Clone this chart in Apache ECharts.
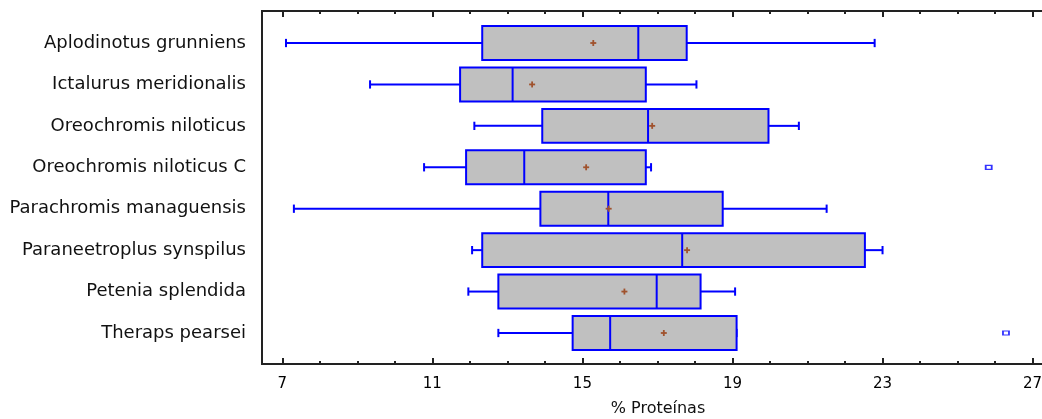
<!DOCTYPE html>
<html><head><meta charset="utf-8">
<script src="https://cdn.jsdelivr.net/npm/echarts@6/dist/echarts.min.js"></script>
<style>html,body{margin:0;padding:0;background:#fff;overflow:hidden}#c{width:1042px;height:419px}</style>
</head><body><div id="c"></div>
<script>
const categories = ['Aplodinotus grunniens','Ictalurus meridionalis','Oreochromis niloticus','Oreochromis niloticus C','Parachromis managuensis','Paraneetroplus synspilus','Petenia splendida','Theraps pearsei'];
const whiskerLow  = [7.10, 9.34, 12.12, 10.78, 7.31, 12.06, 11.96, 12.76];
const q1          = [12.33, 11.74, 13.93, 11.90, 13.88, 12.33, 12.76, 14.74];
const median      = [16.49, 13.14, 16.75, 13.45, 15.69, 17.66, 16.98, 15.74];
const q3          = [17.78, 16.69, 19.96, 16.69, 18.74, 22.53, 18.15, 19.11];
const whiskerHigh = [22.79, 18.04, 20.77, 16.83, 21.51, 23.00, 19.07, 19.11];
const means       = [15.29, 13.66, 16.86, 15.10, 15.70, 17.79, 16.12, 17.17];
const outlierValues = [25.83, 26.29];
const outlierCategories = ['Oreochromis niloticus C', 'Theraps pearsei'];
const majorTicks = [7, 11, 15, 19, 23, 27];
const minorTicks = [8, 9, 10, 12, 13, 14, 16, 17, 18, 20, 21, 22, 24, 25, 26];
const axisTitle = '% Proteínas';
const X_MIN = 6.46, X_MAX = 28.05;

const FONT = 'DejaVu Sans';
const BLUE = '#0000ff';
const BROWN = '#a0522d';

const boxData = categories.map((c, i) => [whiskerLow[i], q1[i], median[i], q3[i], whiskerHigh[i], means[i], i]);
const outlierData = outlierValues.map((v, i) => [v, categories.indexOf(outlierCategories[i])]);

function renderItem(params, api) {
  const idx = api.value(6);
  const px = k => api.coord([api.value(k), idx])[0];
  const yc = api.coord([api.value(2), idx])[1];
  const xLo = px(0), xQ1 = px(1), xMed = px(2), xQ3 = px(3), xHi = px(4), xMean = px(5);
  const band = api.size([0, 1])[1];
  const h = band * 0.82, cap = band * 0.1, m = 3;
  const ls = { stroke: BLUE, lineWidth: 2 };
  const ms = { stroke: BROWN, lineWidth: 1.8 };
  return {
    type: 'group',
    children: [
      { type: 'line', shape: { x1: xLo, y1: yc, x2: xQ1, y2: yc }, style: ls },
      { type: 'line', shape: { x1: xQ3, y1: yc, x2: xHi, y2: yc }, style: ls },
      { type: 'line', shape: { x1: xLo, y1: yc - cap, x2: xLo, y2: yc + cap }, style: ls },
      { type: 'line', shape: { x1: xHi, y1: yc - cap, x2: xHi, y2: yc + cap }, style: ls },
      { type: 'rect', shape: { x: xQ1, y: yc - h / 2, width: xQ3 - xQ1, height: h }, style: { fill: '#c0c0c0', stroke: BLUE, lineWidth: 2 } },
      { type: 'line', shape: { x1: xMed, y1: yc - h / 2, x2: xMed, y2: yc + h / 2 }, style: ls },
      { type: 'line', shape: { x1: xMean - m, y1: yc, x2: xMean + m, y2: yc }, style: ms },
      { type: 'line', shape: { x1: xMean, y1: yc - m, x2: xMean, y2: yc + m }, style: ms }
    ]
  };
}

const frameGrid = { left: 262, right: -30, top: 11, bottom: 55, outerBoundsMode: 'none', containLabel: false };
const dataGrid = { left: 262, right: -30, top: 22.3, bottom: 65.3, outerBoundsMode: 'none', containLabel: false };
const lineStyle = { color: '#222', width: 2 };

function tickAxis(pos, vals, len, labels) {
  return {
    type: 'value', gridIndex: 0, position: pos, min: X_MIN, max: X_MAX,
    axisLine: { show: true, onZero: false, lineStyle },
    axisTick: { show: true, inside: true, length: len, customValues: vals, lineStyle: { color: '#222', width: 2 } },
    axisLabel: labels ? { show: true, customValues: vals, color: '#000', fontFamily: FONT, fontSize: 15, margin: 13, hideOverlap: false } : { show: false },
    splitLine: { show: false }
  };
}

const bottomMajor = tickAxis('bottom', majorTicks, 6, true);
bottomMajor.name = axisTitle;
bottomMajor.nameLocation = 'middle';
bottomMajor.nameGap = 37;
bottomMajor.nameTextStyle = { color: '#111', fontFamily: FONT, fontSize: 16, padding: [0, 18, 0, 0] };

const option = {
  animation: false,
  backgroundColor: '#fff',
  grid: [frameGrid, dataGrid],
  xAxis: [
    bottomMajor,
    tickAxis('bottom', minorTicks, 3, false),
    tickAxis('top', majorTicks, 6, false),
    tickAxis('top', minorTicks, 3, false),
    { type: 'value', gridIndex: 1, min: X_MIN, max: X_MAX, show: false, splitLine: { show: false } }
  ],
  yAxis: [
    { type: 'value', gridIndex: 0, position: 'left', min: 0, max: 1,
      axisLine: { show: true, onZero: false, lineStyle }, axisTick: { show: false }, axisLabel: { show: false }, splitLine: { show: false } },
    { type: 'category', gridIndex: 1, position: 'left', data: categories, inverse: true,
      axisLine: { show: false, onZero: false }, axisTick: { show: false },
      axisLabel: { color: '#111', fontFamily: FONT, fontSize: 18, margin: 16 } }
  ],
  series: [
    { type: 'custom', xAxisIndex: 4, yAxisIndex: 1, renderItem, data: boxData,
      encode: { x: [0, 1, 2, 3, 4, 5], y: 6 }, z: 2 },
    { type: 'scatter', xAxisIndex: 4, yAxisIndex: 1, data: outlierData, symbol: 'rect', symbolSize: [6, 4],
      itemStyle: { color: '#fff', borderColor: BLUE, borderWidth: 1.5 }, z: 3 }
  ]
};
echarts.init(document.getElementById('c')).setOption(option);
</script>
</body></html>
